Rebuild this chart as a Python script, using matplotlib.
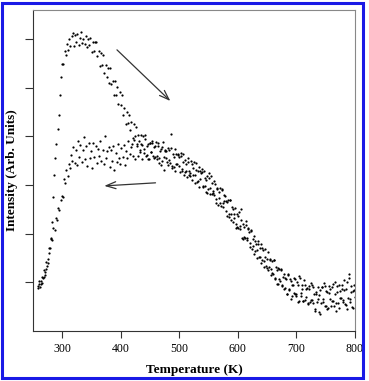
import numpy as np
import matplotlib.pyplot as plt
from matplotlib.patches import Rectangle

# Heating run, T = 258 ... 800 K (step 2)
heat_T = np.arange(258, 801, 2)
heat_I = [
    0.88, 0.97, 0.90, 1.02, 0.99, 1.12, 1.15, 1.28, 1.33, 1.48,
    1.70, 1.90, 2.25, 2.75, 3.20, 3.55, 3.85, 4.15, 4.45, 4.85,
    5.22, 5.50, 5.48, 5.75, 5.68, 5.90, 5.78, 6.00, 5.86, 6.06,
    6.12, 5.85, 6.08, 5.95, 6.10, 5.88, 6.02, 6.14, 5.92, 6.00,
    5.90, 6.06, 5.83, 6.01, 5.89, 6.03, 5.74, 5.94, 5.76, 5.95,
    5.95, 5.65, 5.75, 5.45, 5.72, 5.47, 5.68, 5.30, 5.46, 5.23,
    5.40, 5.10, 5.40, 5.07, 5.15, 4.85, 5.15, 4.85, 5.02, 4.67,
    4.92, 4.64, 4.86, 4.45, 4.58, 4.26, 4.50, 4.27, 4.45, 4.13,
    4.30, 3.97, 4.25, 4.00, 4.20, 3.85, 4.03, 3.72, 4.02, 3.82,
    4.01, 3.74, 4.04, 3.62, 3.84, 3.54, 3.87, 3.69, 3.90, 3.56,
    3.58, 3.89, 3.60, 3.81, 3.46, 3.75, 3.49, 3.88, 3.57, 3.73,
    3.70, 3.41, 3.73, 3.46, 3.77, 3.40, 3.58, 3.30, 3.63, 3.44,
    3.63, 3.39, 3.66, 3.28, 3.47, 3.21, 3.52, 3.28, 3.55, 3.21,
    3.24, 3.50, 3.10, 3.36, 3.21, 3.46, 3.07, 3.30, 2.96, 3.30,
    3.26, 2.97, 3.30, 2.98, 3.11, 2.83, 3.15, 2.93, 3.18, 2.82,
    2.84, 3.09, 2.71, 2.95, 2.60, 2.85, 2.64, 2.89, 2.63, 2.79,
    2.77, 2.47, 2.66, 2.34, 2.69, 2.40, 2.54, 2.24, 2.41, 2.12,
    2.40, 2.11, 2.44, 2.10, 2.29, 1.90, 2.13, 1.92, 2.18, 1.87,
    2.09, 1.81, 2.08, 1.69, 1.89, 1.58, 1.86, 1.66, 1.86, 1.52,
    1.71, 1.40, 1.70, 1.44, 1.69, 1.34, 1.48, 1.25, 1.49, 1.28,
    1.43, 1.18, 1.45, 1.07, 1.25, 0.96, 1.28, 1.02, 1.25, 0.92,
    1.17, 0.88, 1.06, 0.76, 1.16, 0.87, 1.03, 0.72, 0.94, 0.78,
    1.07, 0.71, 0.95, 0.62, 1.08, 0.72, 0.86, 0.62, 0.94, 0.70,
    0.89, 0.56, 0.93, 0.64, 0.95, 0.57, 0.77, 0.46, 0.81, 0.65,
    0.40, 0.85, 0.58, 0.90, 0.65, 0.92, 0.52, 0.80, 0.48, 0.78,
    0.87, 0.62, 0.97, 0.52, 0.77, 0.57, 0.92, 0.47, 0.82, 0.67,
    0.95, 0.63, 0.85, 0.53, 1.00, 0.67, 1.10, 0.60, 0.80, 0.47,
    0.85, 0.70,
]

# Cooling run, T = 259 ... 799 K (step 2)
cool_T = np.arange(259, 800, 2)
cool_I = [
    0.92, 1.03, 0.96, 1.12, 1.08, 1.26, 1.22, 1.42, 1.40, 1.60,
    1.70, 1.92, 1.88, 2.12, 2.08, 2.32, 2.28, 2.52, 2.48, 2.70,
    2.78, 2.75, 3.12, 3.04, 3.32, 3.18, 3.43, 3.35, 3.62, 3.50,
    3.78, 3.45, 3.72, 3.42, 3.90, 3.58, 3.82, 3.48, 3.73, 3.98,
    3.53, 3.80, 3.39, 3.87, 3.56, 3.71, 3.36, 3.87, 3.57, 3.80,
    3.45, 3.75, 3.60, 3.90, 3.50, 3.73, 3.43, 4.00, 3.55, 3.70,
    3.78, 3.37, 3.72, 3.49, 3.81, 3.31, 3.67, 3.47, 3.85, 3.55,
    3.44, 3.76, 3.57, 3.83, 3.41, 3.71, 3.55, 3.90, 3.63, 3.79,
    3.85, 3.60, 3.93, 3.53, 3.80, 3.60, 3.91, 3.68, 3.84, 3.54,
    3.65, 3.95, 3.60, 3.80, 3.54, 3.86, 3.68, 3.87, 3.59, 3.78,
    3.81, 3.53, 3.87, 3.56, 3.70, 3.42, 3.78, 3.32, 3.71, 3.55,
    3.47, 3.76, 3.52, 4.06, 3.35, 3.64, 3.38, 3.74, 3.43, 3.62,
    3.58, 3.27, 3.60, 3.34, 3.64, 3.26, 3.44, 3.16, 3.48, 3.30,
    3.18, 3.43, 3.21, 3.47, 3.05, 3.31, 3.09, 3.37, 3.12, 3.25,
    3.33, 2.99, 3.14, 2.85, 3.19, 2.92, 3.24, 2.82, 3.05, 2.88,
    2.80, 3.02, 2.64, 2.91, 2.73, 2.93, 2.57, 2.91, 2.54, 2.68,
    2.68, 2.37, 2.69, 2.41, 2.70, 2.29, 2.51, 2.33, 2.52, 2.19,
    2.13, 2.36, 2.15, 2.51, 1.92, 2.19, 1.94, 2.27, 1.91, 2.11,
    2.03, 1.72, 2.06, 1.75, 1.95, 1.64, 1.78, 1.50, 1.78, 1.53,
    1.78, 1.47, 1.66, 1.31, 1.53, 1.30, 1.62, 1.31, 1.46, 1.15,
    1.20, 1.47, 1.09, 1.31, 0.96, 1.30, 1.07, 1.27, 0.94, 1.11,
    0.86, 1.09, 0.77, 1.17, 0.85, 1.07, 0.66, 0.95, 1.09, 0.76,
    0.77, 1.01, 0.60, 1.14, 0.78, 0.94, 0.61, 1.05, 0.64, 0.86,
    0.57, 0.86, 0.60, 0.99, 0.63, 0.90, 0.42, 0.76, 0.59, 0.90,
    0.75, 0.35, 0.90, 0.60, 0.98, 0.52, 0.82, 0.45, 0.92, 0.65,
    0.52, 0.90, 0.62, 1.00, 0.42, 0.80, 0.57, 0.94, 0.67, 0.87,
    0.60, 1.05, 0.55, 0.87, 0.45, 1.17, 0.65, 0.93, 0.50, 0.83,
    0.95,
]

# direction arrows (tail -> head) in data units
heat_arrow = [(390, 5.82), (488, 4.69)]
cool_arrow = [(464, 3.05), (367, 2.98)]

plt.rcParams['font.family'] = ['Liberation Serif', 'DejaVu Serif']

fig = plt.figure(figsize=(3.69, 3.81), dpi=100)
ax = fig.add_axes([33 / 369, 50 / 381, 322 / 369, 321 / 381])

ax.plot(heat_T, heat_I, linestyle='none', marker='o', ms=1.6, mew=0, color='black')
ax.plot(cool_T, cool_I, linestyle='none', marker='o', ms=1.6, mew=0, color='black')

for (x0, y0), (x1, y1) in [heat_arrow, cool_arrow]:
    ax.annotate('', xy=(x1, y1), xytext=(x0, y0),
                arrowprops=dict(arrowstyle='->,head_length=0.7,head_width=0.25',
                                color='#333333', lw=0.9))

ax.set_xlim(250, 800)
ax.set_ylim(0, 6.6)
ax.set_xticks([300, 400, 500, 600, 700, 800])
ax.set_yticks([1, 2, 3, 4, 5, 6])
ax.set_yticklabels([])
ax.tick_params(direction='out', length=5, width=0.8, color='#333333', labelsize=8.5, pad=4)
ax.tick_params(axis='y', length=6)

for side in ['left', 'bottom']:
    ax.spines[side].set_color('#333333')
for side in ['top', 'right']:
    ax.spines[side].set_color('#888888')

ax.set_xlabel('Temperature (K)', fontsize=9.5, fontweight='bold', va='center')
ax.set_ylabel('Intensity (Arb. Units)', fontsize=9.5, fontweight='bold', va='center')
ax.xaxis.set_label_coords(0.5, -39 / 321)
ax.yaxis.set_label_coords(-21 / 322, 0.5)

# blue frame around the image
fig.patches.append(Rectangle((1.5 / 369, 3 / 381), 361.5 / 369, 375 / 381,
                             transform=fig.transFigure, fill=False,
                             edgecolor='#1a1ae6', lw=2.2))

fig.savefig('out.png', dpi=100)
